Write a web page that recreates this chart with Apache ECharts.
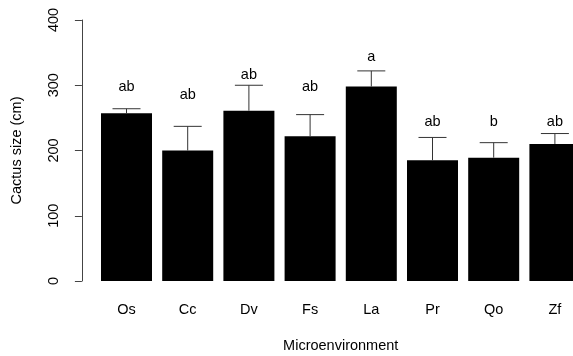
<!DOCTYPE html>
<html>
<head>
<meta charset="utf-8">
<script src="https://cdn.jsdelivr.net/npm/echarts@6/dist/echarts.min.js"></script>
<style>html,body{margin:0;padding:0;background:#fff;overflow:hidden;}#c{width:573px;height:356px;overflow:hidden;}</style>
</head>
<body>
<div id="c"></div>
<script>
var categories = ['Os', 'Cc', 'Dv', 'Fs', 'La', 'Pr', 'Qo', 'Zf'];
var means = [257, 200, 261, 222, 298, 185, 189, 210];
var upper = [264, 237, 300, 255, 322, 220, 212, 226];
var letters = ['ab', 'ab', 'ab', 'ab', 'a', 'ab', 'b', 'ab'];
var letterY = [297, 285, 316, 297, 343, 244, 244, 244];
var yTicks = [0, 100, 200, 300, 400];

var FONT = '"Liberation Sans", Arial, Helvetica, sans-serif';
var FS = 14.5;
var chart = echarts.init(document.getElementById('c'));

var errData = categories.map(function (c, i) { return [i, means[i], upper[i]]; });
var letterData = categories.map(function (c, i) { return [i, letterY[i], letters[i]]; });

chart.setOption({
  animation: false,
  grid: { left: 95.9, width: 489.6, top: 20, bottom: 75, containLabel: false, outerBoundsMode: 'none' },
  xAxis: {
    type: 'category',
    data: categories,
    axisLine: { show: false },
    axisTick: { show: false },
    axisLabel: { margin: 21, fontSize: FS, color: '#000', fontFamily: FONT },
    name: 'Microenvironment',
    nameLocation: 'middle',
    nameGap: 57,
    nameTextStyle: { fontSize: FS, color: '#000', fontFamily: FONT }
  },
  yAxis: {
    type: 'value',
    min: yTicks[0],
    max: yTicks[yTicks.length - 1],
    interval: 100,
    offset: 14,
    splitLine: { show: false },
    axisLine: { show: true, lineStyle: { color: '#444', width: 1 } },
    axisTick: { show: true, length: 7, lineStyle: { color: '#444', width: 1 } },
    axisLabel: { rotate: 90, margin: 20, fontSize: FS, color: '#000', fontFamily: FONT },
    name: 'Cactus size (cm)',
    nameLocation: 'middle',
    nameGap: 57,
    nameTextStyle: { fontSize: FS, color: '#000', fontFamily: FONT }
  },
  series: [
    {
      type: 'bar',
      data: means,
      barWidth: 51,
      itemStyle: { color: '#000' },
      z: 2
    },
    {
      type: 'custom',
      data: errData,
      z: 3,
      renderItem: function (params, api) {
        var x = api.value(0);
        var top = api.coord([x, api.value(2)]);
        var base = api.coord([x, api.value(1)]);
        var half = 14;
        return {
          type: 'group',
          children: [
            { type: 'line', shape: { x1: top[0], y1: base[1], x2: top[0], y2: top[1] }, style: { stroke: '#333', lineWidth: 1 } },
            { type: 'line', shape: { x1: top[0] - half, y1: top[1], x2: top[0] + half, y2: top[1] }, style: { stroke: '#333', lineWidth: 1 } }
          ]
        };
      }
    },
    {
      type: 'custom',
      data: letterData,
      z: 4,
      renderItem: function (params, api) {
        var p = api.coord([api.value(0), api.value(1)]);
        return {
          type: 'text',
          x: p[0], y: p[1],
          style: { text: letters[params.dataIndex], fill: '#000', font: FS + 'px ' + FONT, align: 'center', verticalAlign: 'middle' }
        };
      }
    }
  ]
});
</script>
</body>
</html>
